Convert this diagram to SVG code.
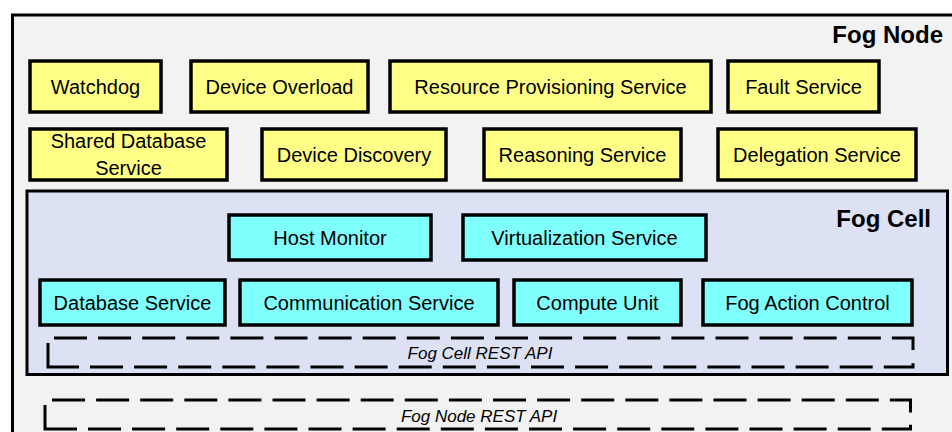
<svg xmlns="http://www.w3.org/2000/svg" width="952" height="432" viewBox="0 0 952 432">
<style>
.frame{stroke:#000;stroke-width:3}
.yb{fill:#ffff88;stroke:#000;stroke-width:3.5}
.cb{fill:#80ffff;stroke:#000;stroke-width:3.5}
.t{font-family:"Liberation Sans",Arial,sans-serif;font-size:20px;fill:#000;text-anchor:middle}
.h{font-family:"Liberation Sans",Arial,sans-serif;font-size:24px;font-weight:bold;fill:#000;text-anchor:end}
.it{font-family:"Liberation Sans",Arial,sans-serif;font-size:17px;font-style:italic;fill:#000;text-anchor:middle}
.dash{fill:none;stroke:#000;stroke-width:3;stroke-dasharray:33 11.1}
.solid{fill:none;stroke:#000;stroke-width:3}
</style>
<rect width="952" height="432" fill="#ffffff"/>
<g id="fog-node">
<rect class="frame" x="12.5" y="15" width="945" height="430" fill="#f2f2f2"/>
<text class="h" x="943" y="43">Fog Node</text>
</g>
<g id="watchdog"><rect class="yb" x="30" y="61" width="131" height="51"/><text class="t" x="95.5" y="94">Watchdog</text></g>
<g id="device-overload"><rect class="yb" x="191" y="61" width="177" height="51"/><text class="t" x="279.5" y="94">Device Overload</text></g>
<g id="resource-provisioning"><rect class="yb" x="390" y="61" width="321" height="51"/><text class="t" x="550.5" y="94">Resource Provisioning Service</text></g>
<g id="fault-service"><rect class="yb" x="728" y="61" width="151" height="51"/><text class="t" x="803.5" y="94">Fault Service</text></g>
<g id="shared-database"><rect class="yb" x="30" y="129" width="197" height="51"/><text class="t" x="128.5" y="148">Shared Database</text><text class="t" x="128.5" y="175">Service</text></g>
<g id="device-discovery"><rect class="yb" x="262" y="129" width="184" height="51"/><text class="t" x="354" y="162">Device Discovery</text></g>
<g id="reasoning-service"><rect class="yb" x="484" y="129" width="197" height="51"/><text class="t" x="582.5" y="162">Reasoning Service</text></g>
<g id="delegation-service"><rect class="yb" x="718" y="129" width="198" height="51"/><text class="t" x="817" y="162">Delegation Service</text></g>
<g id="fog-cell">
<rect class="frame" x="27" y="191" width="920.5" height="183.5" fill="#dce1f3"/>
<text class="h" x="931" y="227">Fog Cell</text>
</g>
<g id="host-monitor"><rect class="cb" x="229" y="215" width="202" height="45"/><text class="t" x="330" y="245">Host Monitor</text></g>
<g id="virtualization-service"><rect class="cb" x="463" y="215" width="243" height="45"/><text class="t" x="584.5" y="245">Virtualization Service</text></g>
<g id="database-service"><rect class="cb" x="40" y="280" width="185" height="45"/><text class="t" x="132.5" y="310">Database Service</text></g>
<g id="communication-service"><rect class="cb" x="240" y="280" width="258" height="45"/><text class="t" x="369" y="310">Communication Service</text></g>
<g id="compute-unit"><rect class="cb" x="514" y="280" width="167" height="45"/><text class="t" x="597.5" y="310">Compute Unit</text></g>
<g id="fog-action-control"><rect class="cb" x="703" y="280" width="209" height="45"/><text class="t" x="807.5" y="310">Fog Action Control</text></g>
<g id="fog-cell-rest-api">
<path class="dash" d="M54,338 H913 V351"/>
<path class="dash" d="M90,367 H913 V361"/>
<path class="solid" d="M48,343 V367 H79"/>
<text class="it" x="480" y="359">Fog Cell REST API</text>
</g>
<g id="fog-node-rest-api">
<path class="dash" d="M52,400 H910.5 V413"/>
<path class="dash" d="M88,429 H910.5 V423"/>
<path class="solid" d="M45,405 V429 H77"/>
<text class="it" x="479" y="422">Fog Node REST API</text>
</g>
<g id="connectors"></g>
</svg>
